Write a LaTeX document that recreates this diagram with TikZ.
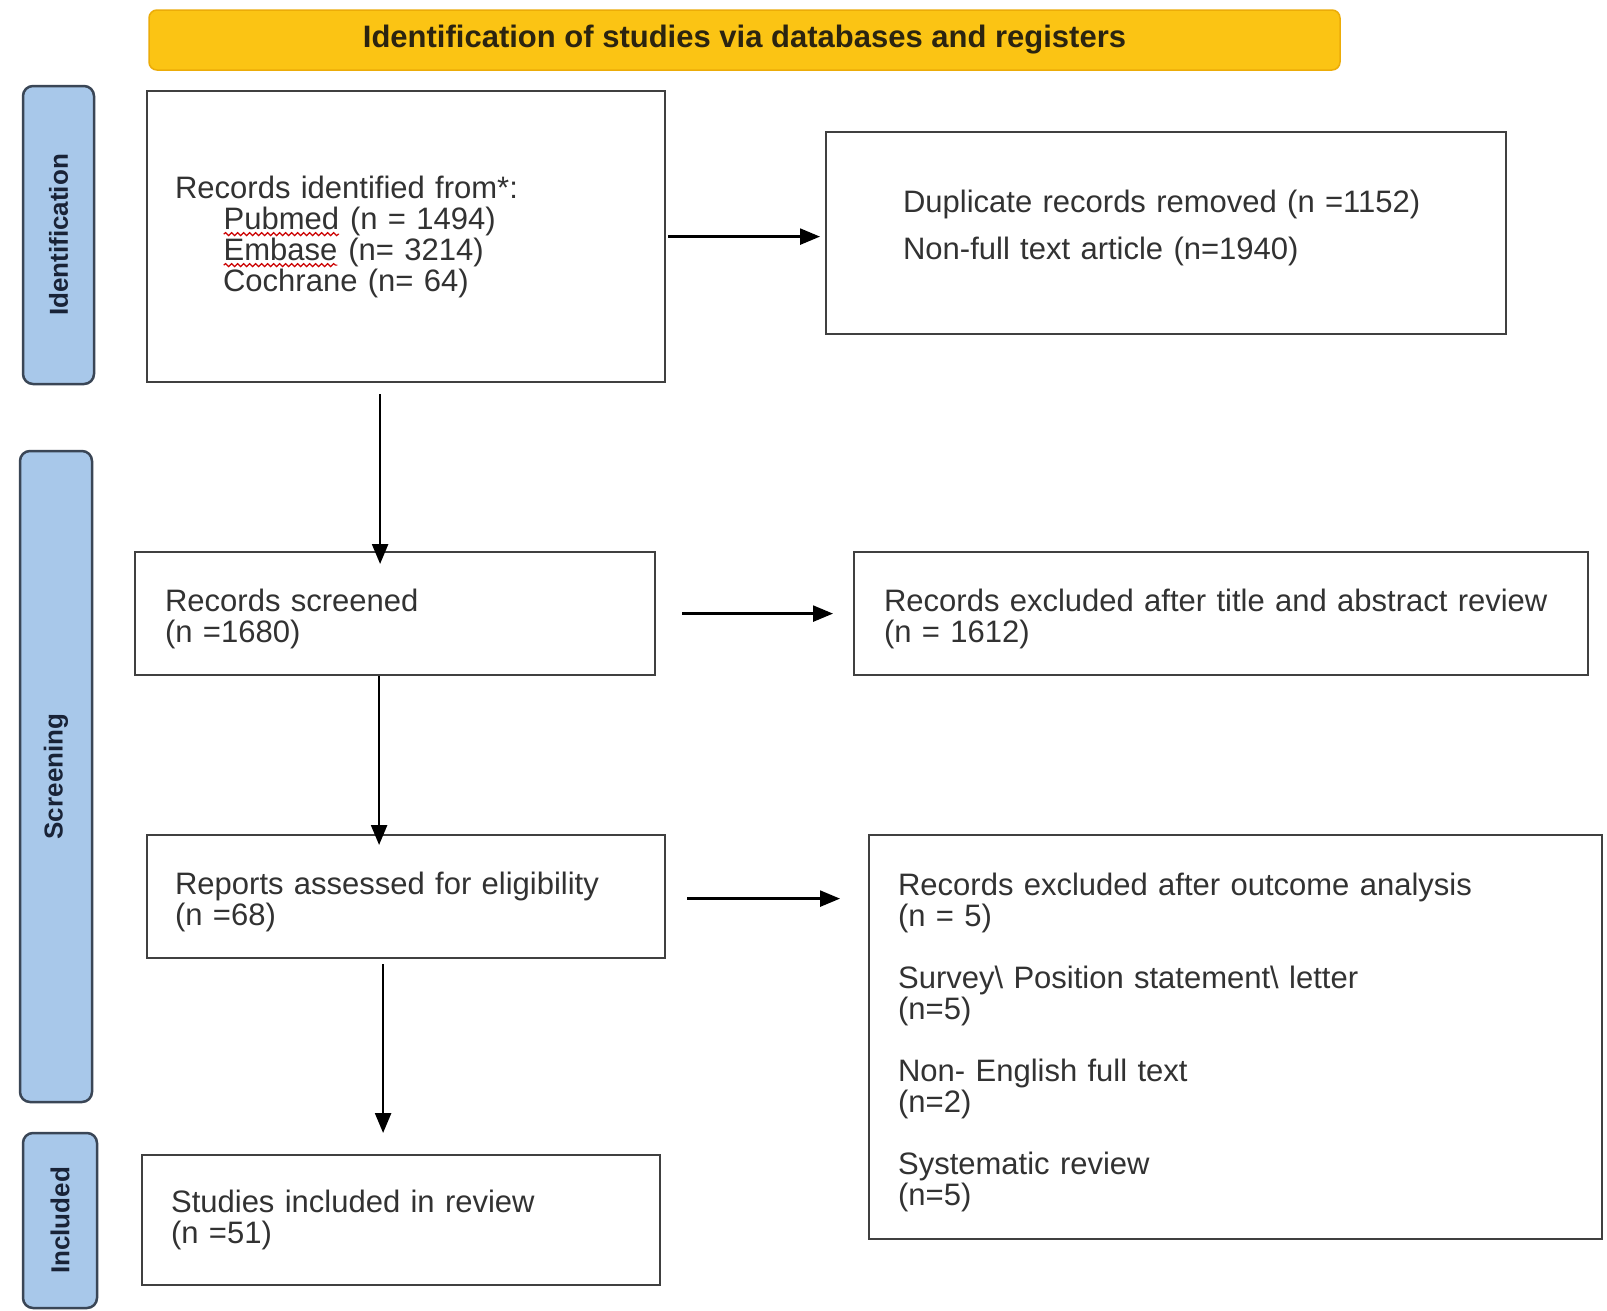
\documentclass[tikz,border=0pt]{standalone}
\usepackage{fontspec}
\setmainfont{Liberation Sans}
\usepackage{xcolor}
\usepackage{tikz}
\usetikzlibrary{positioning, arrows.meta, calc, decorations.pathmorphing}

\definecolor{titlefill}{RGB}{251,196,20}
\definecolor{titleline}{RGB}{236,172,8}
\definecolor{titletext}{RGB}{43,36,16}
\definecolor{tabfill}{RGB}{168,200,234}
\definecolor{tabline}{RGB}{58,70,86}
\definecolor{tabtext}{RGB}{25,35,55}
\definecolor{boxline}{RGB}{64,64,64}
\definecolor{boxtext}{RGB}{50,50,50}

\newcommand{\spellmark}[1]{\tikz[baseline=(w.base)]{\node[inner sep=0pt, outer sep=0pt, minimum size=0pt,
    text width=, draw=none, fill=none] (w) {#1};
  \draw[red!80!black, line width=1.2pt, decorate, decoration={snake, amplitude=1.5pt, segment length=6pt}]
    ([yshift=-5pt]w.base west) -- ([yshift=-5pt]w.base east);}}
\newcommand{\dropstrut}{\rule{0pt}{33pt}}
\newcommand{\liftstrut}{\rule[-16.5pt]{0pt}{1pt}}

\begin{document}
\begin{tikzpicture}[
    x=1pt, y=-1pt,
    titlebar/.style={draw=titleline, fill=titlefill, line width=1.5pt, rounded corners=8pt,
      text=titletext, font=\bfseries\fontsize{31}{31}\selectfont},
    tab/.style={draw=tabline, fill=tabfill, line width=2.5pt, rounded corners=10pt, rotate=90,
      inner sep=0pt, text=tabtext, font=\bfseries\fontsize{26}{26}\selectfont},
    box/.style={draw=boxline, line width=2.2pt, rectangle, anchor=north west, align=left,
      inner ysep=0pt, text=boxtext, font=\fontsize{31}{31}\selectfont},
    flow/.style={line width=2.5pt, -{Triangle[length=20pt, width=16pt]}}
]
\path[use as bounding box, fill=white] (0,0) rectangle (1607,1310);

\node[titlebar, minimum width=1191pt, minimum height=60pt] (title) at (744.5,40)
  {Identification of studies via databases and registers};

\node[tab, minimum width=298pt, minimum height=71pt] (tabid) at (58.5,235) {Identification};
\node[tab, minimum width=651pt, minimum height=72pt] (tabscr) at (56,776.5) {Screening};
\node[tab, minimum width=175pt, minimum height=74pt] (tabinc) at (60,1220.5) {Included};

\node[box, text width=462pt, inner xsep=28pt, minimum height=291pt] (b1) at (146,90)
  {Records identified from*:\\
   \hspace*{48pt}\spellmark{Pubmed} (n = 1494)\\
   \hspace*{48pt}\spellmark{Embase} (n= 3214)\\
   \hspace*{48pt}Cochrane (n= 64)};
\node[box, text width=526pt, inner xsep=77pt, minimum height=202pt] (dup) at (825,131)
  {Duplicate records removed (n =1152)\\[16pt]Non-full text article (n=1940)\liftstrut};
\node[box, text width=460pt, inner xsep=30pt, minimum height=123pt] (scr) at (134,551)
  {\dropstrut Records screened\\(n =1680)};
\node[box, text width=674pt, inner xsep=30pt, minimum height=123pt] (ex1) at (853,551)
  {\dropstrut Records excluded after title and abstract review\\(n = 1612)};
\node[box, text width=462pt, inner xsep=28pt, minimum height=123pt] (rep) at (146,834)
  {\dropstrut Reports assessed for eligibility\\(n =68)};
\node[box, text width=675pt, inner xsep=29pt, minimum height=404pt] (ex2) at (868,834)
  {\dropstrut Records excluded after outcome analysis\\(n = 5)\\[31pt]
   Survey\textbackslash{} Position statement\textbackslash{} letter\\(n=5)\\[31pt]
   Non- English full text\\(n=2)\\[31pt]
   Systematic review\\(n=5)};
\node[box, text width=460pt, inner xsep=29pt, minimum height=130pt] (inc) at (141,1154)
  {Studies included in review\\(n =51)};

\draw[flow, shorten <=2pt, shorten >=5pt] (b1.east) -- (b1.east -| dup.west);
\draw[flow, shorten <=11pt, shorten >=-13pt] ([xshift=-26pt]b1.south) -- ([xshift=-26pt]b1.south |- scr.north);
\draw[flow, shorten <=26pt, shorten >=20pt] (scr.east) -- (scr.east -| ex1.west);
\draw[flow, shorten >=-11pt] ([xshift=-16pt]scr.south) -- ([xshift=-16pt]scr.south |- rep.north);
\draw[flow, shorten <=21pt, shorten >=28pt] ([yshift=-2pt]rep.east) -- ([yshift=-2pt]rep.east -| ex2.west);
\draw[flow, shorten <=5pt, shorten >=21pt] ([xshift=-23pt]rep.south) -- ([xshift=-23pt]rep.south |- inc.north);
\end{tikzpicture}
\end{document}
